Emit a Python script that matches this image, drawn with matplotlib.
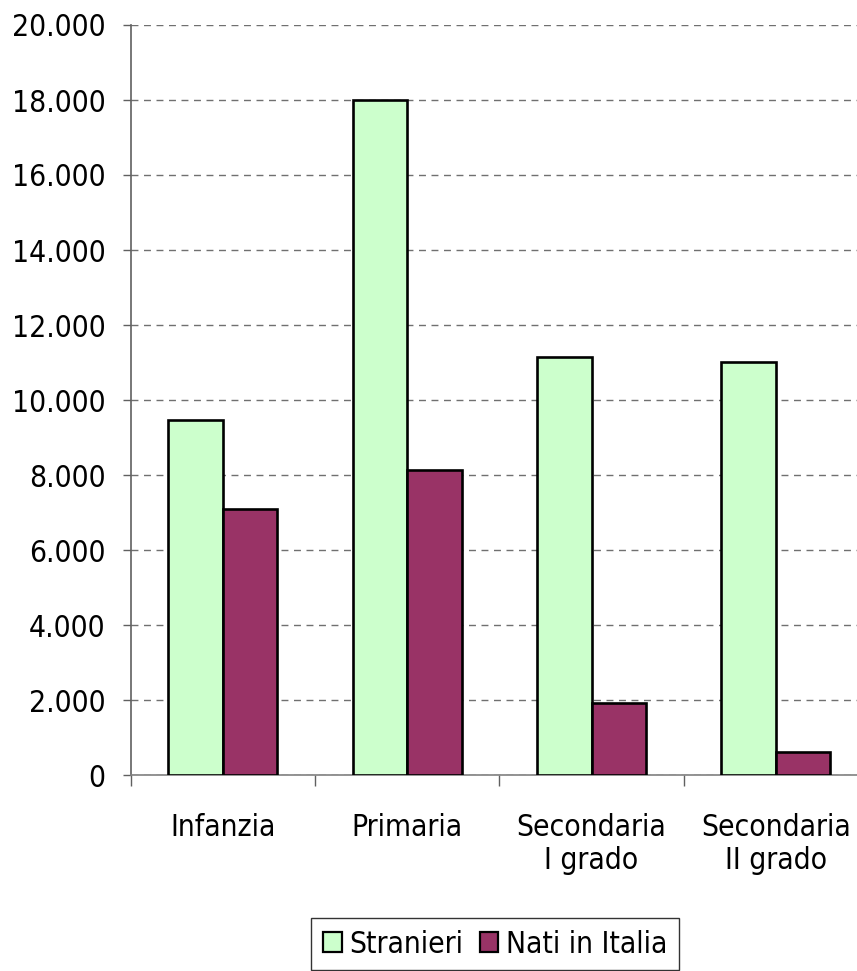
import numpy as np
import matplotlib
matplotlib.use('Agg')
import matplotlib.pyplot as plt
from matplotlib.patches import Patch
from matplotlib.ticker import FuncFormatter, FixedLocator

categories = ['Infanzia', 'Primaria', 'Secondaria\nI grado', 'Secondaria\nII grado']
stranieri = [9470, 18000, 11150, 11020]
nati_in_italia = [7080, 8130, 1920, 620]
series_names = ['Stranieri', 'Nati in Italia']
colors = ['#CCFFCC', '#993366']

plt.rcParams['font.family'] = ['DejaVu Sans']
plt.rcParams['font.stretch'] = 'condensed'
fs = 21.5

fig = plt.figure(figsize=(8.57, 9.71), dpi=100)
ax = fig.add_axes([130.7 / 857, 196 / 971, (868 - 130.7) / 857, 750 / 971])

x = np.arange(len(categories))
w = 0.295
ax.bar(x - w / 2, stranieri, w, color=colors[0], edgecolor='black', linewidth=1.9, zorder=3)
ax.bar(x + w / 2, nati_in_italia, w, color=colors[1], edgecolor='black', linewidth=1.9, zorder=3)

ax.set_xlim(-0.5, len(categories) - 0.5)
ax.set_ylim(0, 20000)
ax.set_yticks(np.arange(0, 20001, 2000))
ax.yaxis.set_major_formatter(FuncFormatter(lambda v, p: f"{int(v):,}".replace(',', '.')))
ax.yaxis.grid(True, color='#707070', linestyle=(0, (5, 4)), linewidth=1.0, zorder=0)

# category boundaries get the tick marks, labels sit in between
ax.xaxis.set_major_locator(FixedLocator(np.arange(-0.5, len(categories), 1.0)))
ax.xaxis.set_major_formatter(FuncFormatter(lambda v, p: ''))
ax.xaxis.set_minor_locator(FixedLocator(x))
ax.set_xticklabels(categories, minor=True)

ax.tick_params(axis='y', labelsize=fs, length=6, width=1, color='#606060', pad=12)
ax.tick_params(axis='x', which='major', length=8, width=1, color='#606060', direction='out')
ax.tick_params(axis='x', which='minor', length=0, labelsize=fs, pad=27)

for s in ['top', 'right']:
    ax.spines[s].set_visible(False)
ax.spines['left'].set_color('#606060')
ax.spines['bottom'].set_color('#808080')
for s in ['left', 'bottom']:
    ax.spines[s].set_linewidth(1.2)

handles = [Patch(facecolor=c, edgecolor='black', linewidth=1.6) for c in colors]
leg = fig.legend(handles, series_names, loc='center', bbox_to_anchor=(495 / 857, 1 - 944 / 971),
                 ncol=2, fontsize=fs, frameon=True, fancybox=False, handlelength=0.62,
                 handleheight=0.62, handletextpad=0.25, columnspacing=0.55, borderpad=0.4,
                 borderaxespad=0)
leg.get_frame().set_edgecolor('black')
leg.get_frame().set_linewidth(1.0)

fig.savefig('out.png', dpi=100)
